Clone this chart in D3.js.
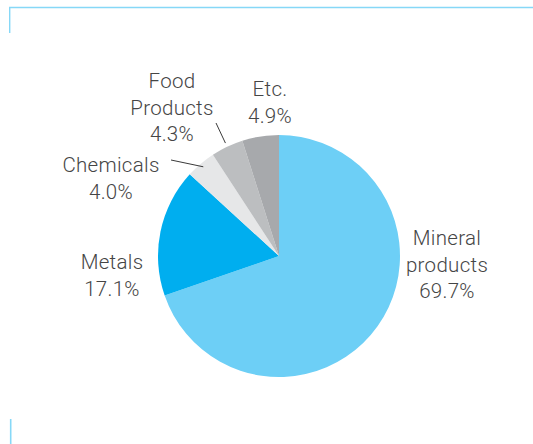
<!DOCTYPE html>
<html>
<head>
<meta charset="utf-8">
<script src="https://cdn.jsdelivr.net/npm/d3@7"></script>
<style>
  html, body { margin: 0; padding: 0; background: #fff; }
  svg { display: block; }
  text { font-family: Roboto, "Noto Sans", sans-serif; font-weight: 300; fill: #454545; }
</style>
</head>
<body>
<svg id="chart" width="533" height="444"></svg>
<script>
// Share of each product group (%)
const categories = ["Mineral products", "Metals", "Chemicals", "Food Products", "Etc."];
const shares = [69.7, 17.1, 4.0, 4.3, 4.9];
const labelLines = [["Mineral", "products", "69.7%"], ["Metals", "17.1%"], ["Chemicals", "4.0%"], ["Food", "Products", "4.3%"], ["Etc.", "4.9%"]];
const colors = ["#6dcff6", "#00aeef", "#e6e7e8", "#bcbec0", "#a7a9ac"];

const svg = d3.select("#chart");
const cx = 279, cy = 256, radius = 121;

// Frame corner marks
const frame = "#86d8f7";
svg.append("path")
  .attr("d", "M9.7,33 V7.5 H533")
  .attr("fill", "none").attr("stroke", frame).attr("stroke-width", 1.4);
svg.append("line")
  .attr("x1", 10.7).attr("x2", 10.7).attr("y1", 419).attr("y2", 444)
  .attr("stroke", frame).attr("stroke-width", 1.6);

const pie = d3.pie().sort(null).value(d => d)(shares);
const arc = d3.arc().innerRadius(0).outerRadius(radius);

const g = svg.append("g").attr("transform", `translate(${cx},${cy})`);
g.selectAll("path.slice")
  .data(pie)
  .join("path")
  .attr("class", "slice")
  .attr("d", arc)
  .attr("fill", (d, i) => colors[i]);

// Label anchor (centre x, first baseline y) for each category
const labelPos = [[447, 245], [112, 269], [111, 172], [172, 88], [270, 96]];
const lineHeight = 26.5;

categories.forEach((c, i) => {
  const t = svg.append("text")
    .attr("text-anchor", "middle")
    .attr("font-size", 20.5)
    .attr("letter-spacing", 0.3);
  labelLines[i].forEach((s, k) => {
    t.append("tspan").attr("x", labelPos[i][0]).attr("y", labelPos[i][1] + k * lineHeight).text(s);
  });
});

// Leader lines for the thin slices
const pointAt = (d, r) => {
  const a = (d.startAngle + d.endAngle) / 2;
  return [cx + r * Math.sin(a), cy - r * Math.cos(a)];
};
const leaders = [
  { i: 3, from: [216, 123], r: 125 },
  { i: 2, from: [171, 160], r: 117 }
];
leaders.forEach(l => {
  const p = pointAt(pie[l.i], l.r);
  svg.append("line")
    .attr("x1", l.from[0]).attr("y1", l.from[1])
    .attr("x2", p[0]).attr("y2", p[1])
    .attr("stroke", "#3a3a3a").attr("stroke-width", 1);
});
</script>
</body>
</html>
